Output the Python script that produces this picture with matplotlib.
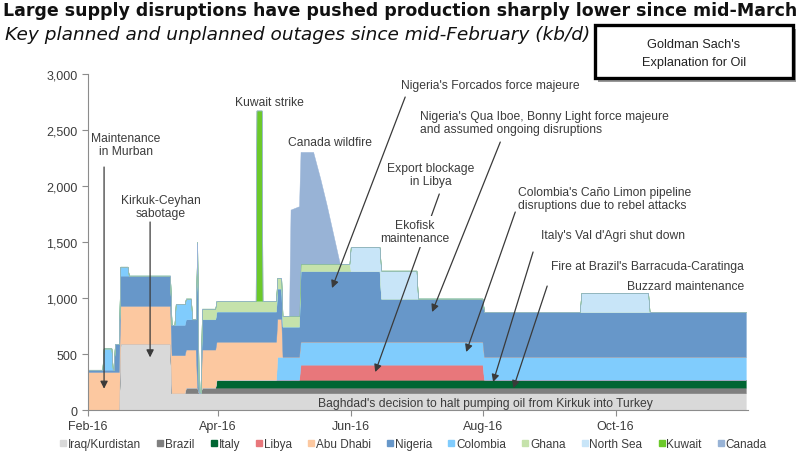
import numpy as np
import matplotlib
matplotlib.use("Agg")
import matplotlib.pyplot as plt
import matplotlib.dates as mdates
from matplotlib.lines import Line2D
from datetime import datetime

# breakpoints, in days since 1 Feb 2016 (kb/d values)
days = [0, 6.6, 7.2, 10.8, 11.4, 11.8, 12.4, 14.2, 14.9, 18.2, 18.8, 37.8, 38.5, 39.8,
        40.4, 44.5, 45.1, 47.4, 48.0, 49.6, 50.3, 51.0, 51.8, 52.5, 58.6, 59.2, 77.2,
        77.6, 80.0, 80.4, 86.6, 87.2, 89.0, 89.6, 92.6, 93.3, 97.2, 97.9, 103.7, 107.0,
        110.0, 113.0, 116.0, 120.4, 121.0, 134.3, 135.0, 151.3, 152.0, 181.7, 182.4,
        226.5, 227.2, 258.0, 258.7, 303.0]

iraq = [0] * 8 + [590] * 4 + [150] * 44
brazil = [0] * 16 + [50] * 5 + [0] * 2 + [50] * 33
italy = [0] * 25 + [70] * 31
libya = [0] * 37 + [135] * 13 + [0] * 6
colombia = [0] * 31 + [205] * 25
abu_dhabi = [340] * 20 + [0] * 3 + [340] * 10 + [0] * 23
nigeria = [20] * 6 + [250] * 2 + [270] * 12 + [1210] + [0] * 2 + [270] * 14 + [630] * 9 + [385] * 4 + [400] * 6
colombia_early = [0] * 2 + [190] * 2 + [0] * 4 + [80] * 2 + [0] * 4 + [185] * 4 + [0] * 38
ghana = [0] * 20 + [90] + [0] * 2 + [95] * 14 + [65] * 7 + [0] * 12
north_sea = [0] * 44 + [215] * 2 + [250] * 2 + [0] * 4 + [170] * 2 + [0] * 2
kuwait = [0] * 27 + [1700] * 2 + [0] * 27
canada = [0] * 35 + [950, 980, 1000, 1000, 760, 520, 260, 0] + [0] * 13

legend_names = ["Iraq/Kurdistan", "Brazil", "Italy", "Libya", "Abu Dhabi", "Nigeria",
                "Colombia", "Ghana", "North Sea", "Kuwait", "Canada"]
c = {"Iraq/Kurdistan": "#d9d9d9", "Brazil": "#7f7f7f", "Italy": "#006633",
     "Libya": "#e8777b", "Abu Dhabi": "#fcc8a0", "Nigeria": "#6797c9",
     "Colombia": "#80ccfd", "Ghana": "#c5e2ab", "North Sea": "#c8e5f8",
     "Kuwait": "#6cc92a", "Canada": "#98b3d6"}

txt = "#3c3c3c"
plt.rcParams["font.family"] = ["Liberation Sans", "DejaVu Sans"]

t0 = mdates.date2num(datetime(2016, 2, 1))
x = t0 + np.array(days)

fig = plt.figure(figsize=(8, 4.64), dpi=100)
ax = fig.add_axes([0.11, 0.1142, 0.825, 0.724])

layers = [iraq, brazil, italy, libya, colombia, abu_dhabi, nigeria, colombia_early,
          ghana, north_sea, kuwait, canada]
cols = [c["Iraq/Kurdistan"], c["Brazil"], c["Italy"], c["Libya"], c["Colombia"],
        c["Abu Dhabi"], c["Nigeria"], c["Colombia"], c["Ghana"], c["North Sea"],
        c["Kuwait"], c["Canada"]]
polys = ax.stackplot(x, *layers, colors=cols, lw=0.3)
for p in polys:
    p.set_edgecolor(p.get_facecolor())

ax.set_xlim(t0, t0 + 304)
ax.set_ylim(0, 3000)
ax.set_yticks(range(0, 3001, 500))
ax.yaxis.set_major_formatter(matplotlib.ticker.FuncFormatter(lambda v, p: f"{int(v):,}"))
ax.xaxis.set_major_locator(mdates.MonthLocator(bymonth=[2, 4, 6, 8, 10]))
ax.xaxis.set_major_formatter(mdates.DateFormatter("%b-%y"))
for s in ["top", "right"]:
    ax.spines[s].set_visible(False)
for s in ["left", "bottom"]:
    ax.spines[s].set_color("#8c8c8c")
ax.tick_params(colors="#8c8c8c", labelcolor=txt, labelsize=9, length=4)

# annotations
def D(d):
    return t0 + d

arrow = dict(arrowstyle="-|>", color="#3a3a3a", lw=0.9, mutation_scale=11, shrinkA=0, shrinkB=0)
fs = 8.7
ax.text(D(17.5), 2375, "Maintenance\nin Murban", ha="center", va="center", fontsize=fs, color=txt, linespacing=1.1)
ax.annotate("", xy=(D(7.4), 190), xytext=(D(7.4), 2170), arrowprops=arrow)
ax.text(D(33.6), 1817, "Kirkuk-Ceyhan\nsabotage", ha="center", va="center", fontsize=fs, color=txt, linespacing=1.1)
ax.annotate("", xy=(D(28.6), 470), xytext=(D(28.6), 1679), arrowprops=arrow)
ax.text(D(83.4), 2750, "Kuwait strike", ha="center", va="center", fontsize=fs, color=txt)
ax.text(D(111.5), 2393, "Canada wildfire", ha="center", va="center", fontsize=fs, color=txt)
ax.text(D(185.3), 2902, "Nigeria's Forcados force majeure", ha="center", va="center", fontsize=fs, color=txt)
ax.annotate("", xy=(D(112.4), 1089), xytext=(D(146.1), 2795), arrowprops=arrow)
ax.text(D(153.0), 2567, "Nigeria's Qua Iboe, Bonny Light force majeure\nand assumed ongoing disruptions",
        ha="left", va="center", fontsize=fs, color=txt, linespacing=1.1)
ax.annotate("", xy=(D(158.5), 875), xytext=(D(189.9), 2393), arrowprops=arrow)
ax.text(D(158.0), 2103, "Export blockage\nin Libya", ha="center", va="center", fontsize=fs, color=txt, linespacing=1.1)
ax.annotate("", xy=(D(132.3), 339), xytext=(D(161.8), 1929), arrowprops=arrow)
ax.text(D(150.7), 1594, "Ekofisk\nmaintenance", ha="center", va="center", fontsize=fs, color=txt, linespacing=1.1,
        bbox=dict(fc="white", ec="none", pad=2.5), zorder=5)
ax.text(D(198.2), 1888, "Colombia's Caño Limon pipeline\ndisruptions due to rebel attacks",
        ha="left", va="center", fontsize=fs, color=txt, linespacing=1.1)
ax.annotate("", xy=(D(174.2), 518), xytext=(D(196.8), 1768), arrowprops=arrow)
ax.text(D(208.8), 1562, "Italy's Val d'Agri shut down", ha="left", va="center", fontsize=fs, color=txt)
ax.annotate("", xy=(D(186.6), 250), xytext=(D(205.0), 1411), arrowprops=arrow)
ax.text(D(213.4), 1286, "Fire at Brazil's Barracuda-Caratinga", ha="left", va="center", fontsize=fs, color=txt)
ax.annotate("", xy=(D(195.9), 195), xytext=(D(211.5), 1107), arrowprops=arrow)
ax.text(D(248.4), 1107, "Buzzard maintenance", ha="left", va="center", fontsize=fs, color=txt)
ax.text(D(183.0), 62, "Baghdad's decision to halt pumping oil from Kirkuk into Turkey",
        ha="center", va="center", fontsize=fs, color=txt)

# legend
handles = [Line2D([], [], ls="none", marker="s", markersize=5, markerfacecolor=c[n],
                  markeredgecolor=c[n]) for n in legend_names]
fig.legend(handles, legend_names, loc="center", bbox_to_anchor=(0.517, 0.041), ncol=11,
           frameon=False, fontsize=8.5, handlelength=0.5, handletextpad=0.15,
           columnspacing=1.38, labelcolor=txt)

# titles
fig.text(0.004, 0.976, "Large supply disruptions have pushed production sharply lower since mid-March",
         fontsize=12.55, fontweight="bold", family="DejaVu Sans", va="center", color="#111111")
fig.text(0.006, 0.925, "Key planned and unplanned outages since mid-February (kb/d)",
         fontsize=13.3, style="italic", family="DejaVu Sans", va="center", color="#111111")

# boxed label
fig.patches.append(plt.Rectangle((0.748, 0.822), 0.2475, 0.114, transform=fig.transFigure,
                                 fc="#555555", ec="none", zorder=1, alpha=0.6))
fig.patches.append(plt.Rectangle((0.744, 0.8297), 0.2475, 0.114, transform=fig.transFigure,
                                 fc="white", ec="black", lw=2.4, zorder=2))
fig.text(0.8675, 0.903, "Goldman Sach's", ha="center", va="center", fontsize=9.2, color="#222222", zorder=3)
fig.text(0.8675, 0.864, "Explanation for Oil", ha="center", va="center", fontsize=9.2, color="#222222", zorder=3)

fig.savefig("out.png", dpi=100)
